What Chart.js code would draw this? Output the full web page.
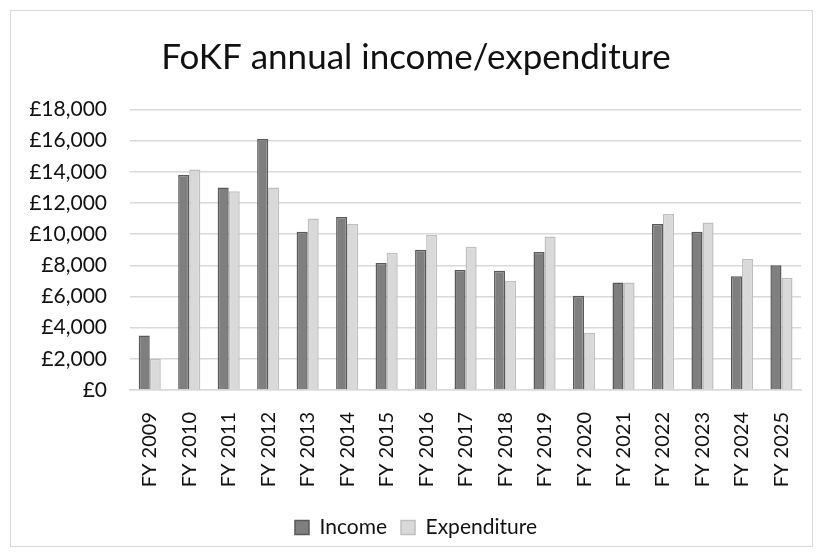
<!DOCTYPE html>
<html>
<head>
<meta charset="utf-8">
<script src="https://cdn.jsdelivr.net/npm/chart.js@4"></script>
<style>
    body {
        margin: 0;
        background: #fff;
    }
    #wrap {
        position: relative;
        width: 820px;
        height: 556px;
    }
    #frame {
        position: absolute;
        left: 10px;
        top: 10px;
        width: 801px;
        height: 535px;
        border: 1.5px solid #d9d9d9;
        pointer-events: none;
    }
</style>
</head>
<body>
<div id="wrap">
    <canvas id="myChart" width="820" height="556"></canvas>
    <div id="frame"></div>
</div>
<script>
const years = [
    "FY 2009", "FY 2010", "FY 2011", "FY 2012", "FY 2013", "FY 2014",
    "FY 2015", "FY 2016", "FY 2017", "FY 2018", "FY 2019", "FY 2020",
    "FY 2021", "FY 2022", "FY 2023", "FY 2024", "FY 2025",
];
const income = [
    3500, 13800, 13000, 16100, 10150, 11100, 8150, 9000, 7700,
    7650, 8850, 6050, 6900, 10650, 10150, 7300, 8000,
];
const expenditure = [
    2000, 14150, 12750, 13000, 11000, 10650, 8800, 9950, 9200,
    7000, 9850, 3650, 6900, 11300, 10750, 8400, 7200,
];
const yTicks = [0, 2000, 4000, 6000, 8000, 10000, 12000, 14000, 16000, 18000];

const font = "Lato, 'Open Sans', sans-serif";

const ctx = document.getElementById("myChart");

new Chart(ctx, {
    type: "bar",
    data: {
        labels: years,
        datasets: [
            {
                label: "Income",
                data: income,
                backgroundColor: "#7f7f7f",
                borderColor: "#595959",
                borderWidth: 1.5,
            },
            {
                label: "Expenditure",
                data: expenditure,
                backgroundColor: "#d9d9d9",
                borderColor: "#bfbfbf",
                borderWidth: 1.5,
            },
        ],
    },
    options: {
        responsive: false,
        animation: false,
        layout: {
            padding: { left: 30, right: 18, top: 10, bottom: 8 },
        },
        datasets: {
            bar: {
                categoryPercentage: 0.56,
                barPercentage: 1.0,
            },
        },
        plugins: {
            title: {
                display: true,
                text: "FoKF annual income/expenditure",
                color: "#111",
                font: { family: font, size: 35, weight: "normal", lineHeight: 1.1 },
                padding: { top: 28, bottom: 33 },
            },
            legend: {
                position: "bottom",
                labels: {
                    color: "#111",
                    font: { family: font, size: 21 },
                    boxWidth: 14,
                    boxHeight: 14,
                    padding: 14,
                },
            },
            tooltip: { enabled: false },
        },
        scales: {
            x: {
                grid: { display: false },
                border: { display: true, color: "#d9d9d9", width: 1.5 },
                ticks: {
                    color: "#111",
                    font: { family: font, size: 20 },
                    minRotation: 90,
                    maxRotation: 90,
                    padding: 14,
                },
                afterFit: (axis) => {
                    axis.height = 113;
                },
            },
            y: {
                min: 0,
                max: 18000,
                afterBuildTicks: (axis) => {
                    axis.ticks = yTicks.map((v) => ({ value: v }));
                },
                grid: {
                    color: "#d9d9d9",
                    lineWidth: 1.5,
                    drawTicks: false,
                },
                border: { display: false },
                ticks: {
                    color: "#111",
                    font: { family: font, size: 21 },
                    padding: 23,
                    callback: (v) => "£" + v.toLocaleString("en-GB"),
                },
                afterFit: (axis) => {
                    axis.width = 100;
                },
            },
        },
    },
});
</script>
</body>
</html>
